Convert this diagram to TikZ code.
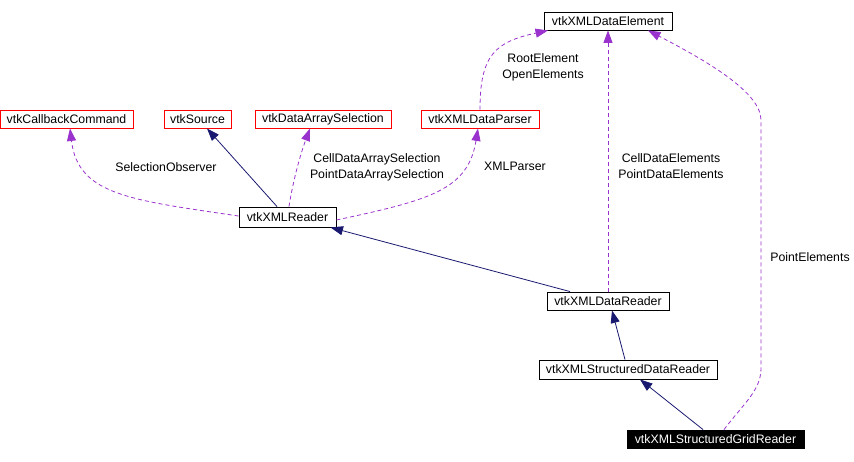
\documentclass[tikz,border=0pt]{standalone}
\usepackage{fontspec}
\setmainfont{Liberation Sans}
\usetikzlibrary{arrows.meta}
\definecolor{inh}{HTML}{191970}
\definecolor{use}{HTML}{9A32CD}
\begin{document}
\begin{tikzpicture}[x=1pt,y=-1pt,
  cls/.style={draw=black,line width=0.9pt,fill=white,inner sep=0pt,minimum height=18pt,font=\fontsize{12.3}{14}\selectfont},
  redcls/.style={cls,draw=red},
  blk/.style={cls,fill=black,text=white},
  inhedge/.style={draw=inh,line width=0.8pt,-{Triangle[length=12.5pt,width=9pt]}},
  useedge/.style={draw=use,line width=0.8pt,dash pattern=on 4pt off 3pt,-{Triangle[length=12.5pt,width=9pt]}},
  lbl/.style={align=center,inner sep=0pt,font=\fontsize{12.3}{16}\selectfont}]
\useasboundingbox (0,0) rectangle (854,461);
\node[redcls,minimum width=133pt] (cb) at (66.5,119) {vtkCallbackCommand};
\node[redcls,minimum width=67pt] (src) at (197.5,119) {vtkSource};
\node[redcls,minimum width=136pt] (das) at (323,119) {vtkDataArraySelection};
\node[redcls,minimum width=118pt] (parser) at (480,119) {vtkXMLDataParser};
\node[cls,minimum width=128pt] (elem) at (608,21) {vtkXMLDataElement};
\node[cls,minimum width=97pt,minimum height=20pt] (reader) at (287.5,217) {vtkXMLReader};
\node[cls,minimum width=122pt] (dreader) at (608,301) {vtkXMLDataReader};
\node[cls,minimum width=178pt,minimum height=19pt] (sdreader) at (628,369.5) {vtkXMLStructuredDataReader};
\node[blk,minimum width=177pt] (greader) at (715.5,439) {vtkXMLStructuredGridReader};
% inheritance
\draw[inhedge] ([xshift=-10.5pt]reader.north) -- ([xshift=9.5pt]src.south);
\draw[inhedge] ([xshift=-38pt]dreader.north) -- ([xshift=43pt]reader.south);
\draw[inhedge] ([xshift=-3pt]sdreader.north) -- ([xshift=4pt]dreader.south);
\draw[inhedge] ([xshift=-12.5pt]greader.north) -- ([xshift=12pt]sdreader.south);
% usage
\draw[useedge] ([yshift=1pt]reader.west) .. controls (130,200) and (78,195) .. ([xshift=3.5pt]cb.south);
\draw[useedge] ([xshift=1.5pt]reader.north) .. controls (294,175) and (302,150) .. ([xshift=-13pt]das.south);
\draw[useedge] ([yshift=-3pt]reader.east) .. controls (430,200) and (468,190) .. ([xshift=-2pt]parser.south);
\draw[useedge] (parser.north) .. controls (480,55) and (495,42) .. ([xshift=-60pt]elem.south);
\draw[useedge] (dreader.north) -- (elem.south);
\draw[useedge] ([xshift=8.5pt]greader.north) .. controls (745,402) and (761,390) .. (761,368) -- (761,120) .. controls (761,92) and (705,60) .. ([xshift=40pt]elem.south);
% labels
\node[lbl] (l1) at (166,167) {SelectionObserver};
\node[lbl] (l2) at (377,167) {CellDataArraySelection\\PointDataArraySelection};
\node[lbl] (l3) at (515,166) {XMLParser};
\node[lbl] (l4) at (543,67) {RootElement\\OpenElements};
\node[lbl] (l5) at (671,166) {CellDataElements\\PointDataElements};
\node[lbl] (l6) at (810,257) {PointElements};
\end{tikzpicture}
\end{document}
